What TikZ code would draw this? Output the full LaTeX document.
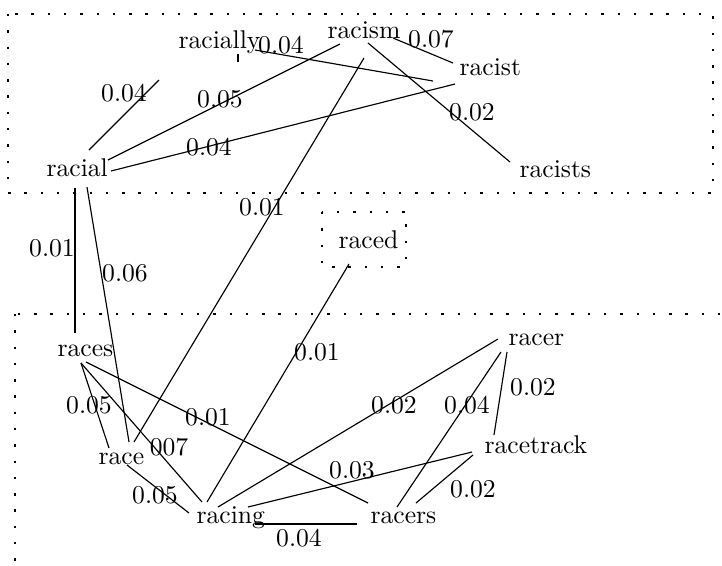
\documentclass[tikz,border=0pt]{standalone}
\begin{document}
\begin{tikzpicture}[x=0.39pt,y=-0.39pt,
  word/.style={inner sep=0pt,anchor=base west,font=\normalsize},
  wt/.style={inner sep=0pt,font=\normalsize},
  edge/.style={line width=0.45pt},
  thickedge/.style={line width=0.85pt},
  dotbox/.style={line width=0.95pt,dash pattern=on 0.95pt off 5.4pt}]
\clip (0,0) rectangle (722,565);
% groups
\draw[dotbox] (8,14) rectangle (713,193);
\draw[dotbox] (322,212) rectangle (406,267);
\draw[dotbox] (15,314) rectangle (770,620);
% words
\node[word] (racism) at (327,38) {racism};
\node[word] (racially) at (178,48) {racially};
\node[word] (racist) at (459,75) {racist};
\node[word] (racial) at (46,176) {racial};
\node[word] (racists) at (519,177) {racists};
\node[word] (raced) at (338,248) {raced};
\node[word] (races) at (57,356) {races};
\node[word] (race) at (98,464) {race};
\node[word] (racing) at (196,523) {racing};
\node[word] (racers) at (370,523) {racers};
\node[word] (racetrack) at (484,453) {racetrack};
\node[word] (racer) at (508,345) {racer};
\coordinate (dangle) at (159,80);
% connectors
\draw[edge] ([shift={(77,2)}]racially.base west) -- ([shift={(-26,6)}]racist.base west)
  node[wt] (l1) at (281,45) {0.04};
\draw[thickedge] ([shift={(60,6)}]racially.base west) -- ([shift={(60,14)}]racially.base west);
\draw[edge] ([shift={(66,0)}]racism.base west) -- ([shift={(-6,-12)}]racist.base west)
  node[wt] (l2) at (431,39) {0.07};
\draw[edge] ([shift={(41,5)}]racism.base west) -- ([shift={(-9,-15)}]racists.base west)
  node[wt] (l3) at (472,112) {0.02};
\draw[edge] ([shift={(62,-16)}]racial.base west) -- ([shift={(13,6)}]racism.base west)
  node[wt] (l4) at (220,99) {0.05};
\draw[edge] ([shift={(65,-5)}]racial.base west) -- ([shift={(-4,9)}]racist.base west)
  node[wt] (l5) at (209,147) {0.04};
\draw[edge] ([shift={(43,-26)}]racial.base west) -- (dangle)
  node[wt] (l6) at (124,93) {0.04};
\draw[edge] ([shift={(37,20)}]racism.base west) -- ([shift={(36,-22)}]race.base west)
  node[wt] (l7) at (262,207) {0.01};
\draw[thickedge] ([shift={(29,12)}]racial.base west) -- ([shift={(18,-23)}]races.base west)
  node[wt] (l8) at (52,248) {0.01};
\draw[edge] ([shift={(41,11)}]racial.base west) -- ([shift={(31,-22)}]race.base west)
  node[wt] (l9) at (125,273) {0.06};
\draw[edge] ([shift={(11,16)}]raced.base west) -- ([shift={(11,-21)}]racing.base west)
  node[wt] (l10) at (317,352) {0.01};
\draw[edge] ([shift={(24,7)}]races.base west) -- ([shift={(11,-16)}]race.base west)
  node[wt] (l11) at (89,405) {0.05};
\draw[edge] ([shift={(24,7)}]races.base west) -- ([shift={(6,-21)}]racing.base west)
  node[wt] (l12) at (169,447) {007};
\draw[edge] ([shift={(29,6)}]races.base west) -- ([shift={(-2,-20)}]racers.base west)
  node[wt] (l13) at (208,417) {0.01};
\draw[edge] ([shift={(29,1)}]race.base west) -- ([shift={(-7,-10)}]racing.base west)
  node[wt] (l14) at (155,495) {0.05};
\draw[thickedge] ([shift={(59,1)}]racing.base west) -- ([shift={(-13,1)}]racers.base west)
  node[wt] (l15) at (299,538) {0.04};
\draw[edge] ([shift={(22,-16)}]racing.base west) -- ([shift={(-10,-6)}]racer.base west)
  node[wt] (l16) at (394,405) {0.02};
\draw[edge] ([shift={(52,-16)}]racing.base west) -- ([shift={(-12,-1)}]racetrack.base west)
  node[wt] (l17) at (352,470) {0.03};
\draw[edge] ([shift={(-7,7)}]racer.base west) -- ([shift={(27,-16)}]racers.base west)
  node[wt] (l18) at (467,405) {0.04};
\draw[edge] ([shift={(-1,7)}]racer.base west) -- ([shift={(10,-18)}]racetrack.base west)
  node[wt] (l19) at (533,387) {0.02};
\draw[edge] ([shift={(-11,2)}]racetrack.base west) -- ([shift={(46,-20)}]racers.base west)
  node[wt] (l20) at (473,489) {0.02};
\end{tikzpicture}
\end{document}
